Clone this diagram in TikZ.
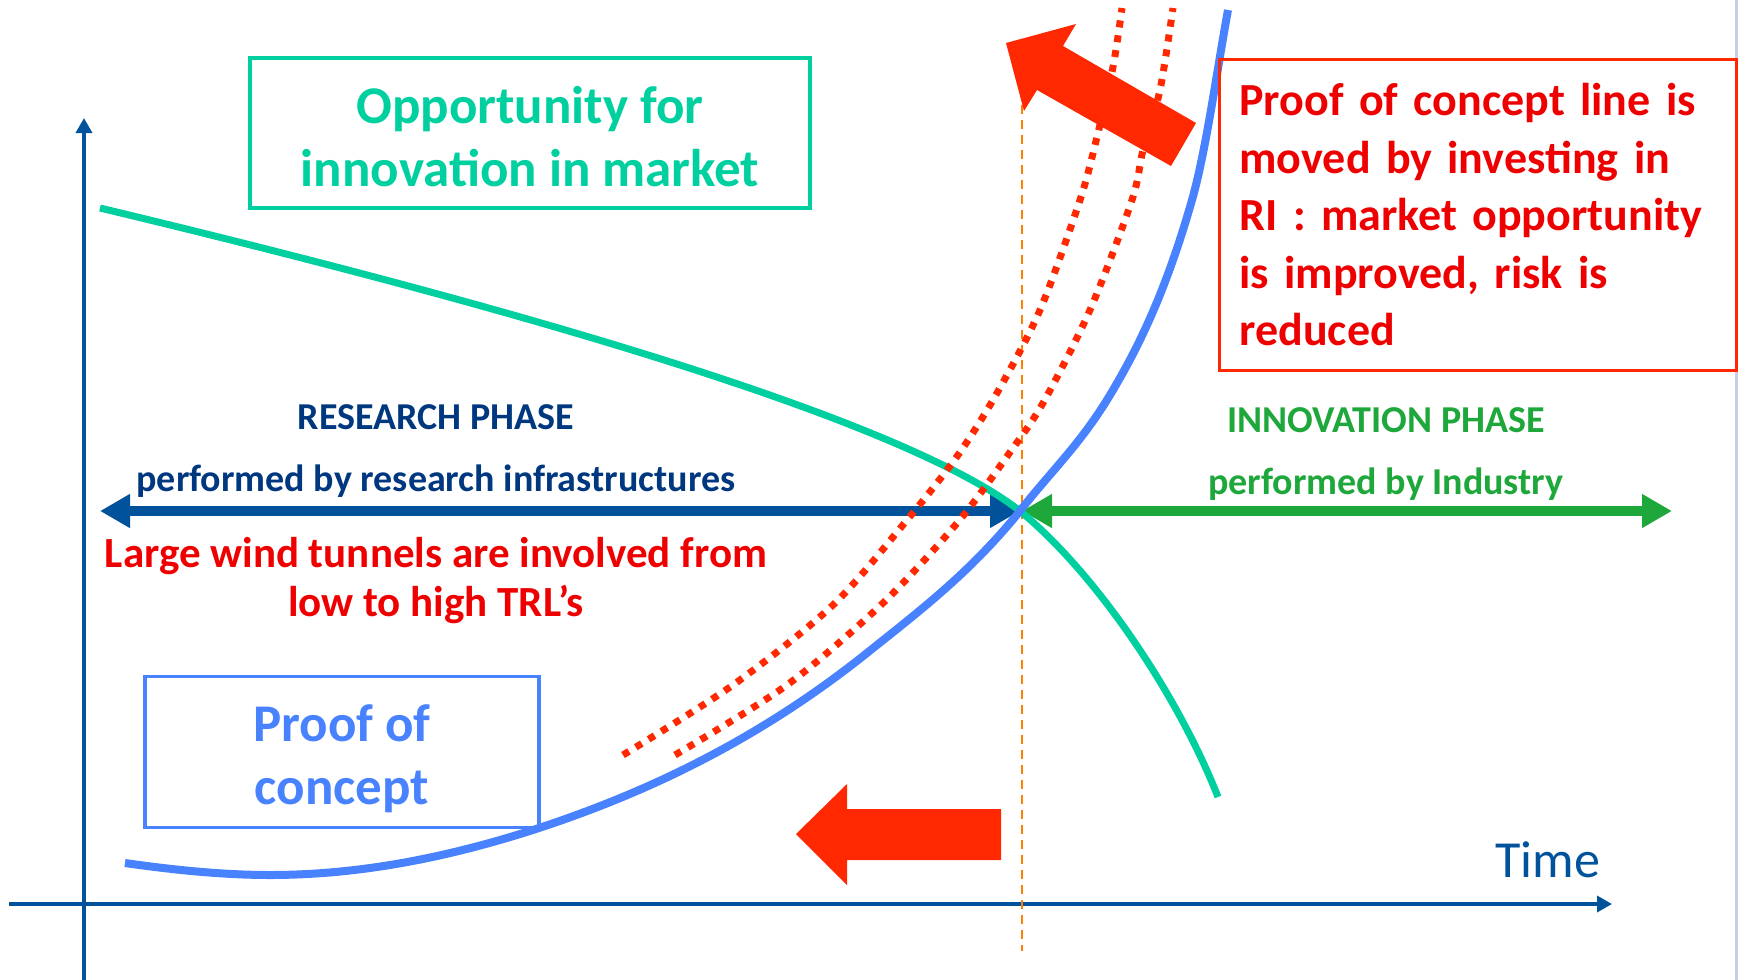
\documentclass[tikz,border=0pt]{standalone}
\usepackage{fontspec}
\setmainfont{Carlito}
\usetikzlibrary{arrows.meta}
\definecolor{axisblue}{RGB}{0,82,155}
\definecolor{navytext}{RGB}{0,56,128}
\definecolor{mktteal}{RGB}{0,208,160}
\definecolor{pocblue}{RGB}{72,130,255}
\definecolor{indgreen}{RGB}{30,168,60}
\definecolor{arrowred}{RGB}{255,40,0}
\definecolor{textred}{RGB}{238,0,0}
\definecolor{markorange}{RGB}{255,128,0}
\definecolor{edgegrey}{RGB}{200,205,232}
\begin{document}
\begin{tikzpicture}[x=1pt,y=-1pt,
    axis/.style={draw=axisblue,line width=3.5pt,-{Triangle[length=15pt,width=16pt]}},
    phase/.style={line width=10pt,{Triangle[length=30pt,width=32pt]}-{Triangle[length=30pt,width=32pt]}},
    riline/.style={draw=arrowred,line width=7pt,dash pattern=on 7pt off 8pt},
    lbl/.style={inner sep=0pt,anchor=base,font=\fontsize{38}{46}\selectfont\bfseries},
    boxtext/.style={font=\fontsize{53}{63}\selectfont\bfseries,align=center,inner sep=0pt}]
    \useasboundingbox (0,0) rectangle (1738,980);
    \fill[white] (0,0) rectangle (1738,980);
    \draw[edgegrey,line width=3pt] (1736,0)--(1736,980);
    % axes
    \coordinate (O) at (84,904);
    \coordinate (xend) at (1612,904);
    \coordinate (yend) at (84,118);
    \draw[axis] (9,904)--(xend);
    \draw[axis] (84,980)--(yend);
    \node[anchor=base,inner sep=0pt,text=axisblue,font=\fontsize{52}{60}\selectfont] (time) at (1548,877) {Time};
    % point where proof of concept meets the market curve
    \coordinate (cross) at (1020,511);
    \coordinate (resL) at (100,511);
    \coordinate (indR) at (1672,511);
    \draw[markorange,line width=2pt,dash pattern=on 9pt off 6pt] (1022,105)--(1022,951);
    % phases
    \draw[phase,axisblue] (resL)--(cross);
    \draw[phase,indgreen] (1022,511)--(indR);
    % market opportunity
    \draw[mktteal,line width=7pt] (100,208) .. controls (613,331) and (920,433) .. (cross)
        .. controls (1100,577) and (1180,700) .. (1218,797);
    % proof of concept line, now and moved
    \draw[pocblue,line width=8pt] (125,863) .. controls (174,870) and (223,875) .. (270,875)
        .. controls (361,875) and (450,857) .. (539,828)
        .. controls (648,792) and (758,740) .. (867,653)
        .. controls (918,612) and (969,574) .. (cross)
        .. controls (1051,471) and (1082,443) .. (1113,390)
        .. controls (1139,346) and (1166,291) .. (1192,200)
        .. controls (1206,151) and (1217,70) .. (1228,10);
    \draw[riline,smooth] plot coordinates {(623,755) (733,685) (833,605) (907,520) (958,455) (997,393) (1040,310) (1080,200) (1097,137) (1113,67) (1122,8)};
    \draw[riline,smooth] plot coordinates {(675,755) (787,685) (883,603) (958,522) (1008,455) (1043,403) (1090,310) (1132,200) (1143,150) (1160,90) (1173,8)};
    % big arrows
    \fill[arrowred] (1006,43)--(1076,24)--(1063,46)--(1196,123)--(1171,166)--(1037,90)--(1024,111)--cycle;
    \fill[arrowred] (796,834)--(847,784)--(847,809)--(1001,809)--(1001,860)--(847,860)--(847,885)--cycle;
    % boxes
    \node[draw=mktteal,line width=4pt,minimum width=560pt,minimum height=150pt] (market) at (530,133) {};
    \node[boxtext,text=mktteal] (markettext) at ([yshift=-4pt]market.center) {Opportunity for\\innovation in market};
    \node[draw=pocblue,line width=3.5pt,minimum width=394pt,minimum height=151pt] (poc) at (342,752) {};
    \node[boxtext,text=pocblue] (poctext) at ([yshift=-7pt]poc.center) {Proof of\\concept};
    \node[draw=arrowred,line width=3pt,anchor=north west,minimum width=517pt,minimum height=311pt,text width=477pt,inner xsep=20pt,inner ysep=0pt,align=left,text=textred,font=\fontsize{46}{57.5}\selectfont\bfseries] (ri) at (1218,58)
        {Proof of concept line is\\moved by investing in\\RI : market opportunity\\is improved, risk is\\reduced};
    % phase labels
    \node[lbl,text=navytext] (research) at (436,429) {RESEARCH PHASE};
    \node[lbl,text=navytext] (resby) at (436,491) {performed by research infrastructures};
    \node[lbl,text=indgreen] (innovation) at (1386,432) {INNOVATION PHASE};
    \node[lbl,text=indgreen] (indby) at (1386,494) {performed by Industry};
    \node[lbl,text=textred,font=\fontsize{43}{49}\selectfont\bfseries,align=center] (tunnels) at (436,616) {Large wind tunnels are involved from\\low to high TRL’s};
\end{tikzpicture}
\end{document}
